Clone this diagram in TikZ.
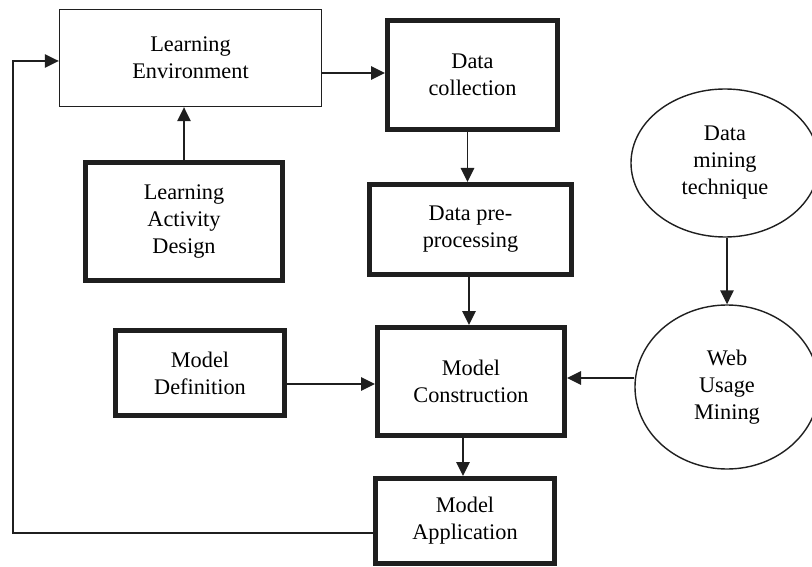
\documentclass[tikz,border=0pt]{standalone}
\usepackage{fontspec}
\setmainfont{Liberation Serif}
\usetikzlibrary{arrows.meta,shapes.geometric}
\begin{document}
\begin{tikzpicture}[x=1pt,y=-1pt,
  every node/.style={font=\fontsize{22.3}{27}\selectfont, align=center, inner sep=0pt},
  thinbox/.style={draw=black!88, line width=1.4pt, rectangle},
  thickbox/.style={draw=black!88, line width=5pt, rectangle},
  oval/.style={draw=black!88, ellipse, line width=1.4pt},
  conn/.style={draw=black!88, line width=1.5pt, -{Triangle[length=14pt,width=13.5pt]}},
]
\useasboundingbox (0,0) rectangle (812,567);
\node[thinbox, minimum width=262pt, minimum height=97pt] (le) at (190.5,58) {Learning\\Environment};
\node[thickbox, minimum width=170pt, minimum height=109pt] (dc) at (472.5,75) {Data\\collection};
\node[thickbox, minimum width=197pt, minimum height=118pt] (lad) at (184,221.5) {Learning\\Activity\\Design};
\node[thickbox, minimum width=202pt, minimum height=90pt] (pp) at (470.5,229.5) {Data pre-\\processing};
\node[oval, minimum width=188pt, minimum height=148pt] (dm) at (725,163) {Data\\mining\\technique};
\node[oval, minimum width=184pt, minimum height=164pt] (wum) at (727,387) {Web\\Usage\\Mining};
\node[thickbox, minimum width=169pt, minimum height=85pt] (md) at (200,373) {Model\\Definition};
\node[thickbox, minimum width=187pt, minimum height=108pt] (mc) at (471,381.5) {Model\\Construction};
\node[thickbox, minimum width=179pt, minimum height=85pt] (ma) at (465,521) {Model\\Application};

\draw[conn] (le.east |- 0,73) -- (dc.west |- 0,73);
\draw[conn] (lad.north |- 0,160) -- (lad.north |- le.south);
\draw[conn] ([xshift=-5pt]dc.south) -- ([xshift=-5pt]dc.south |- pp.north);
\draw[conn] ([xshift=-2pt]mc.north |- pp.south) -- ([xshift=-2pt]mc.north);
\draw[conn] ([xshift=-2pt]ma.north |- mc.south) -- ([xshift=-2pt]ma.north);
\draw[conn] (md.east |- 0,384) -- (mc.west |- 0,384);
\draw[conn] (wum.west |- 0,378) -- (mc.east |- 0,378);
\draw[conn] (wum.north |- dm.south) -- (wum.north);
\coordinate (c1) at (13,533);
\coordinate (c2) at (13,61);
\draw[conn] (ma.west |- c1) -- (c1) -- (c2) -- (le.west |- c2);
\end{tikzpicture}
\end{document}
